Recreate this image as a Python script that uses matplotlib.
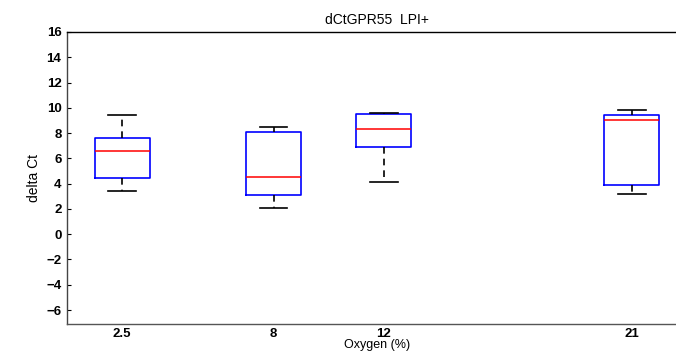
import matplotlib
matplotlib.use('Agg')
import matplotlib.pyplot as plt

plt.rcParams['font.family'] = ['Liberation Sans', 'DejaVu Sans']

# oxygen levels (%) and box statistics
oxygen = [2.5, 8, 12, 21]
whislo = [3.4, 2.1, 4.1, 3.2]
q1 = [4.43, 3.08, 6.9, 3.87]
med = [6.6, 4.53, 8.36, 9.0]
q3 = [7.64, 8.1, 9.54, 9.46]
whishi = [9.41, 8.51, 9.62, 9.81]

stats = []
for i in range(len(oxygen)):
    stats.append({'whislo': whislo[i], 'q1': q1[i], 'med': med[i],
                  'q3': q3[i], 'whishi': whishi[i], 'fliers': []})

fig = plt.figure(figsize=(6.76, 3.51), dpi=100)
ax = fig.add_axes([0.0991, 0.077, 0.917, 0.832])

ax.bxp(stats, positions=oxygen, widths=2, capwidths=1, showfliers=False,
       boxprops=dict(color='blue', linewidth=1.2),
       medianprops=dict(color='red', linewidth=1.1),
       whiskerprops=dict(color='black', linestyle=(0, (4, 3)), linewidth=1.2),
       capprops=dict(color='black', linewidth=1.2))

ax.set_xlim(0.5, 23)
ax.set_ylim(-7.1, 16)
ax.set_yticks(range(-6, 17, 2))
ax.set_xticks(oxygen)
ax.set_xticklabels(['2.5', '8', '12', '21'])
ax.tick_params(direction='in', length=3, labelsize=9.5, width=0.8, pad=4)
ax.tick_params(axis='x', length=0, pad=3)
for lab in ax.get_xticklabels() + ax.get_yticklabels():
    lab.set_fontweight('bold')

ax.spines['right'].set_visible(False)
ax.spines['left'].set_color('#444444')
ax.spines['bottom'].set_color('#555555')
ax.spines['top'].set_color('black')
for s in ax.spines.values():
    s.set_linewidth(1.0)

ax.set_title('dCtGPR55  LPI+', fontsize=10, pad=6)
ax.set_xlabel('Oxygen (%)', fontsize=9, labelpad=-1)
ax.set_ylabel('delta Ct', fontsize=10, labelpad=4)

fig.savefig('out.png', dpi=100)
plt.close(fig)
